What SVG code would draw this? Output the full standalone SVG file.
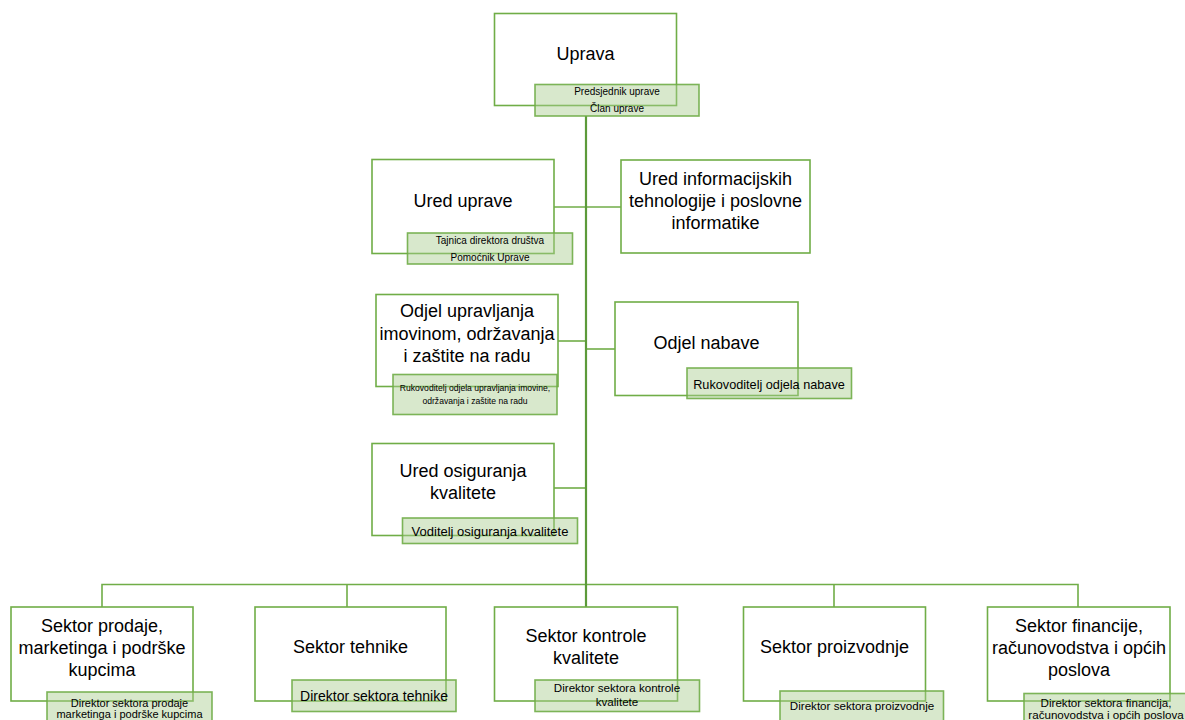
<svg xmlns="http://www.w3.org/2000/svg" width="1185" height="720" viewBox="0 0 1185 720">
<style>
.box{fill:#ffffff;stroke:#70ad47;stroke-width:1.6}
.sub{fill:#a9cc8f;fill-opacity:0.45;stroke:#70ad47;stroke-width:1.6;stroke-opacity:0.9}
.t{font-family:"Liberation Sans",Arial,sans-serif;font-size:18px;fill:#000;text-anchor:middle}
.s{font-family:"Liberation Sans",Arial,sans-serif;fill:#000;text-anchor:middle}
.ln{fill:none;stroke:#70ad47;stroke-width:1.6}
.trunk{fill:none;stroke:#5c9a3a;stroke-width:2.2}
</style>
<rect width="1185" height="720" fill="#ffffff"/>
<g id="connectors">
<path class="ln" d="M554 207 H621"/>
<path class="ln" d="M558 341 H586"/>
<path class="ln" d="M586 349 H615"/>
<path class="ln" d="M554 488 H586"/>
<path class="ln" d="M102 607 V584.5 H1078 V607"/>
<path class="ln" d="M347 584.5 V607"/>
<path class="ln" d="M834 584.5 V607"/>
<path class="trunk" d="M586 116 V607"/>
</g>
<g id="uprava">
<rect class="box" x="494.5" y="13.5" width="182" height="92"/>
<text class="t" x="585.5" y="60">Uprava</text>
<rect class="sub" x="535" y="84.5" width="164" height="31.5"/>
<text class="s" font-size="10" x="617" y="94.5">Predsjednik uprave</text>
<text class="s" font-size="10" x="617" y="111.5">Član uprave</text>
</g>
<g id="ured-uprave">
<rect class="box" x="372" y="159.5" width="182" height="94"/>
<text class="t" x="463" y="207">Ured uprave</text>
<rect class="sub" x="407.5" y="233" width="165" height="31"/>
<text class="s" font-size="10" x="490" y="244">Tajnica direktora društva</text>
<text class="s" font-size="10" x="490" y="260.5">Pomoćnik Uprave</text>
</g>
<g id="ured-it">
<rect class="box" x="621" y="160" width="189" height="93"/>
<text class="t" x="715.5" y="185">Ured informacijskih</text>
<text class="t" x="715.5" y="207">tehnologije i poslovne</text>
<text class="t" x="715.5" y="229">informatike</text>
</g>
<g id="odjel-upravljanja">
<rect class="box" x="376" y="294.5" width="182" height="92"/>
<text class="t" x="467" y="317">Odjel upravljanja</text>
<text class="t" x="467" y="339.5">imovinom, održavanja</text>
<text class="t" x="467" y="362">i zaštite na radu</text>
<rect class="sub" x="393" y="374.5" width="164" height="40"/>
<text class="s" font-size="8.6" x="475" y="391">Rukovoditelj  odjela upravljanja imovine,</text>
<text class="s" font-size="8.6" x="475" y="403.5">održavanja i zaštite na radu</text>
</g>
<g id="odjel-nabave">
<rect class="box" x="615" y="302" width="183" height="93.5"/>
<text class="t" x="706.5" y="349">Odjel nabave</text>
<rect class="sub" x="687" y="368" width="164.5" height="30.5"/>
<text class="s" font-size="12.7" x="769" y="388.5">Rukovoditelj odjela nabave</text>
</g>
<g id="ured-osiguranja">
<rect class="box" x="372" y="443.5" width="182" height="92"/>
<text class="t" x="463" y="477">Ured osiguranja</text>
<text class="t" x="463" y="499">kvalitete</text>
<rect class="sub" x="402.5" y="518" width="175" height="25.5"/>
<text class="s" font-size="13" x="490" y="536">Voditelj osiguranja kvalitete</text>
</g>
<g id="sektor-prodaje">
<rect class="box" x="11" y="607" width="182" height="94"/>
<text class="t" x="102" y="632">Sektor prodaje,</text>
<text class="t" x="102" y="654">marketinga i podrške</text>
<text class="t" x="102" y="676">kupcima</text>
<rect class="sub" x="47" y="692" width="165" height="40"/>
<text class="s" font-size="11" x="129.5" y="706.5">Direktor sektora prodaje</text>
<text class="s" font-size="11" x="129.5" y="718">marketinga i podrške kupcima</text>
</g>
<g id="sektor-tehnike">
<rect class="box" x="255" y="607" width="191" height="94"/>
<text class="t" x="350.5" y="653">Sektor tehnike</text>
<rect class="sub" x="292" y="680" width="164" height="31.5"/>
<text class="s" font-size="14" x="374" y="701">Direktor sektora tehnike</text>
</g>
<g id="sektor-kontrole">
<rect class="box" x="494.5" y="607" width="183" height="94"/>
<text class="t" x="586" y="642">Sektor kontrole</text>
<text class="t" x="586" y="664">kvalitete</text>
<rect class="sub" x="535" y="680" width="164.5" height="31.5"/>
<text class="s" font-size="11.6" x="617" y="692">Direktor sektora kontrole</text>
<text class="s" font-size="11.6" x="617" y="706">kvalitete</text>
</g>
<g id="sektor-proizvodnje">
<rect class="box" x="743.5" y="607" width="182" height="94"/>
<text class="t" x="834.5" y="653">Sektor proizvodnje</text>
<rect class="sub" x="780" y="691" width="163.5" height="40"/>
<text class="s" font-size="11.6" x="862" y="710">Direktor sektora proizvodnje</text>
</g>
<g id="sektor-financije">
<rect class="box" x="987.5" y="607" width="182.5" height="94"/>
<text class="t" x="1079" y="632">Sektor financije,</text>
<text class="t" x="1079" y="654">računovodstva i općih</text>
<text class="t" x="1079" y="676">poslova</text>
<rect class="sub" x="1024" y="693.5" width="164" height="40"/>
<text class="s" font-size="11.6" x="1106" y="707">Direktor sektora financija,</text>
<text class="s" font-size="11.6" x="1106" y="719">računovodstva i općih poslova</text>
</g>
</svg>
